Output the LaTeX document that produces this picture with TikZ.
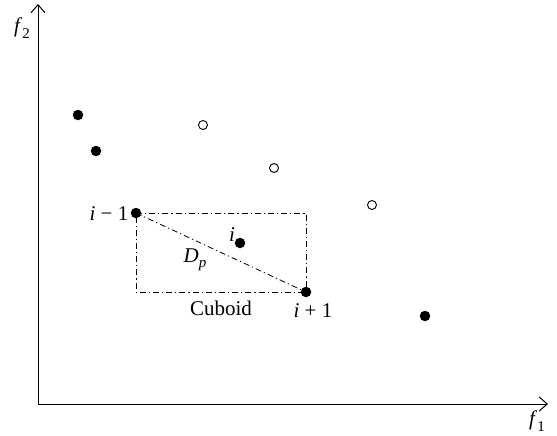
\documentclass[tikz,border=0pt]{standalone}
\usepackage{fontspec}
\setmainfont{Liberation Serif}
\usetikzlibrary{arrows.meta}
\newcommand{\subp}[1]{\raisebox{-0.25em}{\fontsize{15}{17}\selectfont\itshape #1}}
\begin{document}
\begin{tikzpicture}[x=1pt,y=-1pt,
  filled/.style={circle,fill=black,inner sep=0pt,minimum size=10.5pt},
  hollow/.style={circle,draw=black,fill=white,line width=0.9pt,inner sep=0pt,minimum size=9pt},
  lbl/.style={font=\fontsize{21}{23}\selectfont,inner sep=0pt},
  dd/.style={dash pattern=on 6pt off 3pt on 1.2pt off 3pt,line width=0.8pt},
  axis/.style={line width=1pt,-{Straight Barb[length=8pt,width=14pt]}}]
\useasboundingbox (0,0) rectangle (557,436);
\coordinate (o) at (38,404);
\coordinate (xe) at (548,404);
\coordinate (ye) at (38,4);
\draw[axis] (o) -- (xe);
\draw[axis] (o) -- (ye);
\node[lbl] (f2) at (22,28) {\textit{f}\subp{\upshape 2}};
\node[lbl] (f1) at (537,421) {\textit{f}\subp{\upshape 1}};
\coordinate (a) at (136,213);
\coordinate (b) at (306,292);
\draw[dd] (a) -| (b) -| (a);
\draw[dd] (a) -- (b);
\node[filled] (p1) at (78,115) {};
\node[filled] (p2) at (96,151) {};
\node[filled] (pm) at (a) {};
\node[filled] (pi) at (240,243) {};
\node[filled] (pp) at (b) {};
\node[filled] (p6) at (425,316) {};
\node[hollow] (q1) at (203,125) {};
\node[hollow] (q2) at (274,168) {};
\node[hollow] (q3) at (372,205) {};
\node[lbl] (lm) at (109,214) {\textit{i} − 1};
\node[lbl] (li) at (232,235) {\textit{i}};
\node[lbl] (ld) at (195,260) {\textit{D}\subp{p}};
\node[lbl] (lc) at (221,308) {Cuboid};
\node[lbl] (lp) at (313,311) {\textit{i} + 1};
\end{tikzpicture}
\end{document}
